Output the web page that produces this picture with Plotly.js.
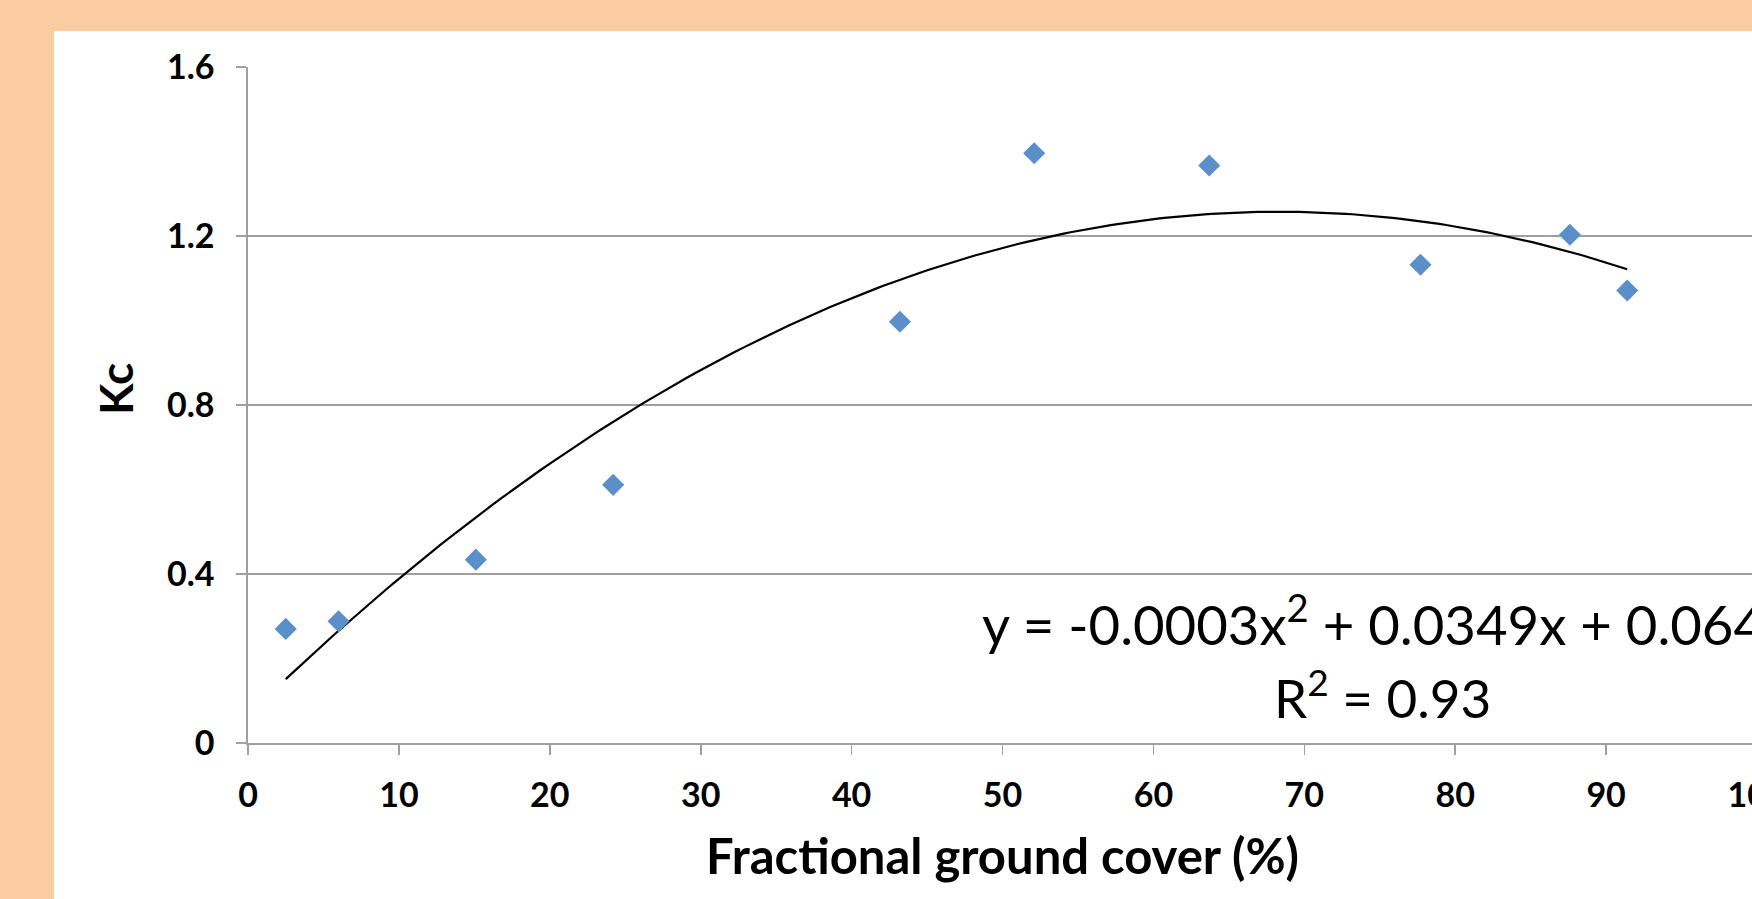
<!DOCTYPE html>
<html>
<head>
<meta charset="utf-8">
<script src="https://cdn.plot.ly/plotly-3.0.1.min.js"></script>
<style>
  html, body { margin:0; padding:0; width:1752px; height:899px; overflow:hidden; background:#FBCBA2; }
  #panel { position:absolute; left:54px; top:31px; width:1698px; height:868px; background:#ffffff; }
  #chart { position:absolute; left:0; top:0; width:1900px; height:899px; }
</style>
</head>
<body>
<div id="panel"></div>
<div id="chart"></div>
<script>
// Data
const groundCover = [2.5, 6.0, 15.1, 24.2, 43.2, 52.1, 63.7, 77.7, 87.6, 91.4];
const kcValues    = [0.27, 0.288, 0.434, 0.611, 0.997, 1.396, 1.367, 1.132, 1.203, 1.071];
const xTickVals = [0, 10, 20, 30, 40, 50, 60, 70, 80, 90, 100];
const yTickVals = [0, 0.4, 0.8, 1.2, 1.6];
const equationText = "y = -0.0003x<sup>2</sup> + 0.0349x + 0.064";
const r2Text = "R<sup>2</sup> = 0.93";
const xTitle = "Fractional ground cover (%)";
const yTitle = "Kc";

// Quadratic least-squares trendline (as the spreadsheet computes it)
function polyFit2(xs, ys) {
  let n = xs.length, S = [0,0,0,0,0], T = [0,0,0];
  for (let i = 0; i < n; i++) {
    let p = 1;
    for (let k = 0; k < 5; k++) { S[k] += p; if (k < 3) T[k] += p * ys[i]; p *= xs[i]; }
  }
  const A = [[S[0],S[1],S[2],T[0]],[S[1],S[2],S[3],T[1]],[S[2],S[3],S[4],T[2]]];
  for (let c = 0; c < 3; c++) {
    let piv = c;
    for (let r = c+1; r < 3; r++) if (Math.abs(A[r][c]) > Math.abs(A[piv][c])) piv = r;
    [A[c], A[piv]] = [A[piv], A[c]];
    for (let r = 0; r < 3; r++) if (r !== c) {
      const f = A[r][c] / A[c][c];
      for (let k = c; k < 4; k++) A[r][k] -= f * A[c][k];
    }
  }
  return [A[0][3]/A[0][0], A[1][3]/A[1][1], A[2][3]/A[2][2]];
}
const coef = polyFit2(groundCover, kcValues);
const xMin = Math.min(...groundCover), xMax = Math.max(...groundCover);
const fitX = [], fitY = [];
for (let i = 0; i <= 200; i++) {
  const x = xMin + (xMax - xMin) * i / 200;
  fitX.push(x); fitY.push(coef[0] + coef[1]*x + coef[2]*x*x);
}

const gridGray = "#a0a0a0";
const fam = "Lato, 'Liberation Sans', sans-serif";
const tickFont = {family: fam, size: 34, color: "#000", weight: 700};

const traces = [
  { x: fitX, y: fitY, mode: "lines", line: {color: "#000", width: 2.2}, hoverinfo: "skip", showlegend: false },
  { x: groundCover, y: kcValues, mode: "markers", marker: {symbol: "diamond", size: 17, color: "#5B8FCA"}, showlegend: false }
];

const layout = {
  width: 1900, height: 899,
  margin: {l: 248, r: 143, t: 67, b: 156, pad: 0},
  paper_bgcolor: "rgba(0,0,0,0)", plot_bgcolor: "rgba(0,0,0,0)",
  showlegend: false,
  xaxis: {
    range: [0, 100], tickvals: xTickVals, ticktext: xTickVals.map(String),
    showgrid: false, zeroline: false, showline: true, linecolor: gridGray, linewidth: 1.6,
    ticks: "outside", ticklen: 10, tickwidth: 1.6, tickcolor: gridGray,
    tickfont: tickFont, ticklabelstandoff: 12,
    title: {text: xTitle, font: {family: fam, size: 49, color: "#000", weight: 700}, standoff: 26}
  },
  yaxis: {
    range: [0, 1.6], tickvals: yTickVals, ticktext: yTickVals.map(String),
    showgrid: true, gridcolor: gridGray, gridwidth: 1.6,
    zeroline: false, showline: true, linecolor: gridGray, linewidth: 1.6,
    ticks: "outside", ticklen: 10, tickwidth: 1.6, tickcolor: gridGray,
    tickfont: tickFont, ticklabelstandoff: 15
  },
  annotations: [
    { xref: "paper", yref: "paper", x: -0.0875, y: 0.5237, text: yTitle, textangle: -90, showarrow: false,
      xanchor: "center", yanchor: "middle",
      font: {family: fam, size: 46, color: "#000", weight: 700} },
    { xref: "x", yref: "y", x: 48.5, y: 0.29, text: equationText, showarrow: false,
      xanchor: "left", yanchor: "middle",
      font: {family: fam, size: 54.5, color: "#000"} },
    { xref: "x", yref: "y", x: 75.2, y: 0.117, text: r2Text, showarrow: false,
      xanchor: "center", yanchor: "middle",
      font: {family: fam, size: 53, color: "#000"} }
  ]
};

Plotly.newPlot("chart", traces, layout, {displayModeBar: false, staticPlot: true});
</script>
</body>
</html>
